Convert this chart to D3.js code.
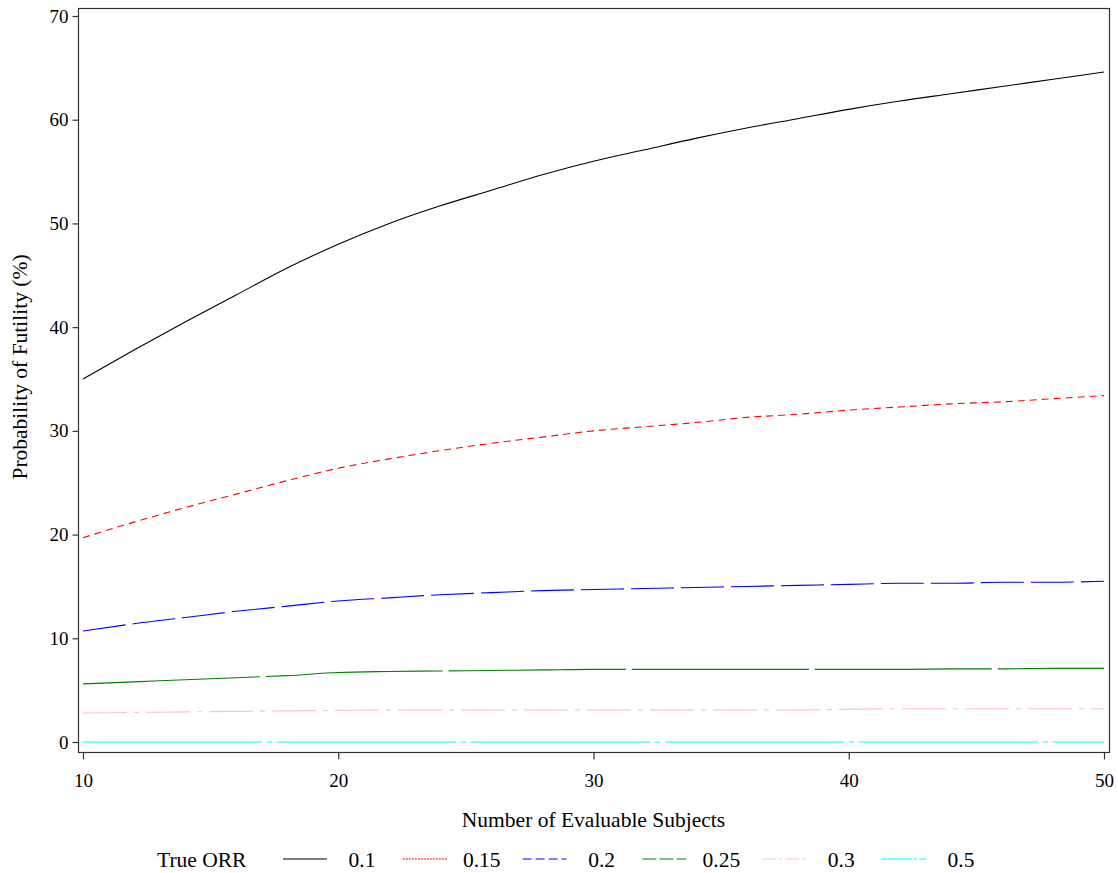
<!DOCTYPE html>
<html>
<head>
<meta charset="utf-8">
<script src="https://cdn.jsdelivr.net/npm/d3@7"></script>
<style>
  body { margin: 0; background: #fff; }
  svg text { font-family: "Liberation Serif", "Times New Roman", serif; fill: #000; }
</style>
</head>
<body>
<svg id="chart" width="1118" height="873"></svg>
<script>
// Number of evaluable subjects
const subjects = [10, 12, 14, 16, 18, 20, 22, 24, 26, 28, 30, 32, 34, 36, 38, 40, 42, 44, 46, 48, 50];

// Probability of futility (%) per true ORR
const orr010 = [35.0, 37.8, 40.5, 43.1, 45.7, 48.0, 50.0, 51.7, 53.2, 54.7, 56.0, 57.1, 58.2, 59.2, 60.1, 61.0, 61.8, 62.5, 63.2, 63.9, 64.6];
const orr015 = [19.7, 21.2, 22.6, 23.9, 25.2, 26.4, 27.3, 28.1, 28.8, 29.4, 30.0, 30.4, 30.8, 31.3, 31.6, 32.0, 32.3, 32.6, 32.8, 33.1, 33.4];
const orr020 = [10.7, 11.4, 12.0, 12.6, 13.1, 13.6, 13.9, 14.2, 14.4, 14.6, 14.7, 14.8, 14.9, 15.0, 15.1, 15.2, 15.3, 15.3, 15.4, 15.4, 15.5];
const orr025 = [5.6, 5.8, 6.0, 6.2, 6.4, 6.7, 6.8, 6.85, 6.9, 6.95, 7.0, 7.0, 7.0, 7.0, 7.0, 7.0, 7.0, 7.05, 7.05, 7.1, 7.1];
const orr030 = [2.8, 2.85, 2.9, 2.95, 3.0, 3.05, 3.1, 3.1, 3.1, 3.1, 3.1, 3.1, 3.1, 3.1, 3.1, 3.15, 3.2, 3.2, 3.2, 3.2, 3.2];
const orr050 = [0, 0, 0, 0, 0, 0, 0, 0, 0, 0, 0, 0, 0, 0, 0, 0, 0, 0, 0, 0, 0];

const orrLabels = ['0.1', '0.15', '0.2', '0.25', '0.3', '0.5'];
const xTicks = [10, 20, 30, 40, 50];
const yTicks = [0, 10, 20, 30, 40, 50, 60, 70];

// styling for each series
const seriesValues = [orr010, orr015, orr020, orr025, orr030, orr050];
const colors = ['#000000', '#ff0000', '#0000ff', '#008000', '#ffc0cb', '#00ffff'];
const dashes = [null, '7,5', '43,7', '177,6', '44,7,5,7', '179,5,5,5'];
const legendDashes = [null, '2,1', '9,4', '14,3', '14,3,3,3', '30,2,3,2'];

const svg = d3.select('#chart');

// plot frame
const frame = { left: 78, right: 1109, top: 8, bottom: 752 };

const x = d3.scaleLinear().domain([10, 50]).range([83, 1104]);
const y = d3.scaleLinear().domain([0, 70]).range([742, 16]);

svg.append('rect')
  .attr('x', frame.left + 0.5)
  .attr('y', frame.top + 0.5)
  .attr('width', frame.right - frame.left)
  .attr('height', frame.bottom - frame.top)
  .attr('fill', 'none')
  .attr('stroke', '#333')
  .attr('stroke-width', 1.2);

// x axis below the frame
const xAxis = svg.append('g')
  .attr('transform', `translate(0, ${frame.bottom + 0.5})`)
  .call(d3.axisBottom(x).tickValues(xTicks).tickSize(7).tickPadding(14).tickFormat(d3.format('d')));
xAxis.select('.domain').remove();
xAxis.selectAll('line').attr('stroke', '#333').attr('stroke-width', 1.2);
xAxis.selectAll('text').attr('font-size', 19);

// y axis left of the frame
const yAxis = svg.append('g')
  .attr('transform', `translate(${frame.left + 0.5}, 0)`)
  .call(d3.axisLeft(y).tickValues(yTicks).tickSize(6).tickPadding(4).tickFormat(d3.format('d')));
yAxis.select('.domain').remove();
yAxis.selectAll('line').attr('stroke', '#333').attr('stroke-width', 1.2);
yAxis.selectAll('text').attr('font-size', 19);

// axis titles
svg.append('text')
  .attr('x', (x(10) + x(50)) / 2)
  .attr('y', 827)
  .attr('text-anchor', 'middle')
  .attr('font-size', 21.5)
  .text('Number of Evaluable Subjects');

svg.append('text')
  .attr('transform', 'translate(27, 367) rotate(-90)')
  .attr('text-anchor', 'middle')
  .attr('font-size', 21.5)
  .text('Probability of Futility (%)');

// lines
const line = d3.line()
  .x((d, i) => x(subjects[i]))
  .y(d => y(d))
  .curve(d3.curveMonotoneX);

seriesValues.forEach((vals, idx) => {
  svg.append('path')
    .attr('d', line(vals))
    .attr('fill', 'none')
    .attr('stroke', colors[idx])
    .attr('stroke-width', 1.1)
    .attr('stroke-dasharray', dashes[idx]);
});

// legend
const legendY = 859;
svg.append('text')
  .attr('x', 157)
  .attr('y', legendY + 8)
  .attr('font-size', 21.5)
  .text('True ORR');

const legendX = d3.scaleLinear().domain([0, 5]).range([283, 882]);

orrLabels.forEach((label, idx) => {
  const x0 = legendX(idx);
  svg.append('line')
    .attr('x1', x0).attr('x2', x0 + 44)
    .attr('y1', legendY).attr('y2', legendY)
    .attr('stroke', colors[idx])
    .attr('stroke-width', 1.1)
    .attr('stroke-dasharray', legendDashes[idx]);
  svg.append('text')
    .attr('x', x0 + 44 + 35)
    .attr('y', legendY + 8)
    .attr('text-anchor', 'middle')
    .attr('font-size', 21.5)
    .text(label);
});
</script>
</body>
</html>
